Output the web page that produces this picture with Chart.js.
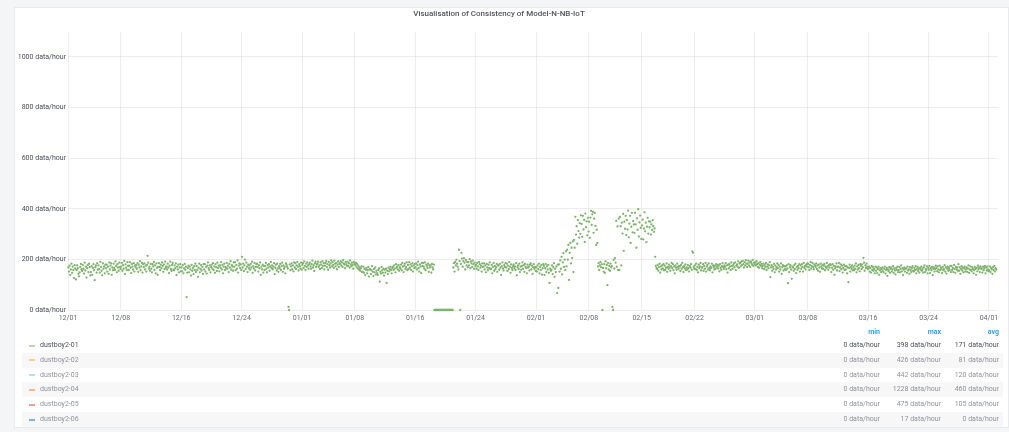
<!DOCTYPE html>
<html>
<head>
<meta charset="utf-8">
<script src="https://cdn.jsdelivr.net/npm/chart.js@4.4.1/dist/chart.umd.min.js"></script>
<style>
  html, body { margin: 0; padding: 0; width: 1009px; height: 432px; overflow: hidden; background: #f4f5f6; font-family: Roboto, "Helvetica Neue", Arial, sans-serif; }
  #panel { position: absolute; left: 14px; top: 7px; width: 995px; height: 421px; background: #fff; border: 1px solid #e9eaec; box-sizing: border-box; }
  #chart { position: absolute; left: 0; top: 0; }
  #legend { position: absolute; left: 0; top: 0; width: 1009px; height: 432px; will-change: transform; }
  .row { position: absolute; left: 22px; width: 981px; height: 15px; font-size: 7px; line-height: 15px; color: #8f9399; }
  .row.alt { background: #f7f7f8; }
  .row.on { color: #4b5057; }
  .row.head { height: 12px; line-height: 12px; color: #33a2e5; font-weight: 700; }
  .sw { position: absolute; left: 7px; top: 6.5px; width: 6px; height: 2px; opacity: 0.55; }
  .name { position: absolute; left: 18px; }
  .v { position: absolute; width: 80px; text-align: right; }
  .c1 { left: 778px; } .c2 { left: 839px; } .c3 { left: 897px; }
</style>
</head>
<body>
<div id="panel"></div>
<canvas id="chart" width="1009" height="326"></canvas>
<div id="legend"></div>
<script>
// Message counts for dustboy2-01 (data/hour), one sample every 2 hours
const decValues = [
  168,152,175,139,160,183,147,171,158,126,177,164, 121,158,176,165,143,133,149,170,182,161,154,178,
  162,144,187,156,171,128,165,178,150,183,169,137, 150,173,139,166,181,157,118,169,176,148,185,160,
  176,161,148,190,170,155,137,184,163,172,145,179, 165,179,152,171,143,188,160,175,184,139,168,157,
  183,166,158,192,174,149,181,168,155,187,170,162, 171,186,155,177,163,194,142,180,167,158,189,174,
  158,175,189,167,146,182,171,160,185,152,176,169, 177,163,185,151,179,168,193,157,172,186,148,181,
  169,184,160,175,152,178,214,187,163,171,155,182, 163,149,181,172,190,158,176,145,184,167,139,170,
  185,170,157,179,166,188,174,151,180,162,191,168, 172,160,183,168,146,175,191,162,154,178,186,159,
  157,176,165,184,138,171,160,179,149,168,181,153, 168,153,177,145,164,182,159,171,51,148,166,175,
  149,171,160,136,178,155,166,142,173,158,183,150, 174,158,131,167,183,149,162,177,156,170,143,181,
  160,181,152,170,144,175,188,165,158,176,149,169, 179,163,185,158,172,147,181,169,154,187,166,175,
  153,176,167,189,160,178,145,171,183,158,170,164, 186,164,175,150,182,168,193,159,177,171,155,188,
  171,189,157,178,163,196,148,175,184,166,180,158, 210,168,183,154,176,199,162,187,171,150,179,165,
  175,159,182,168,191,147,173,164,186,156,170,181, 183,170,152,177,165,188,139,171,160,179,148,174,
  158,174,186,163,149,178,168,181,155,172,190,166, 176,161,171,185,142,167,179,156,183,164,151,173,
  165,182,158,173,187,151,176,163,170,145,184,178, 170,164,12,0,180,157,172,184,161,176,153,188,
  168,185,162,176,190,171,156,181,173,164,187,159
];
const janValues = [
  178,185,166,192,174,158,183,170,188,176,163,181, 187,172,163,181,195,168,176,154,184,191,170,179,
  183,191,170,176,162,188,179,166,193,174,185,160, 175,186,194,169,181,159,190,177,168,184,196,172,
  189,178,167,195,183,172,186,161,179,192,170,184, 182,193,176,188,170,197,184,179,165,190,181,174,
  191,174,185,168,196,180,172,187,177,163,189,182, 178,186,171,182,165,175,160,168,155,164,172,150,
  152,171,147,163,138,159,166,145,157,170,132,161, 160,142,157,173,151,134,162,149,168,140,155,146,
  139,158,165,112,151,144,170,156,147,163,136,159, 148,163,107,155,142,167,153,161,171,158,145,166,
  170,158,176,163,149,181,167,172,160,178,155,169, 164,179,157,186,171,150,175,183,162,169,188,158,
  178,162,189,167,180,158,173,185,152,176,166,182, 169,184,160,177,191,165,152,180,171,146,186,174,
  186,171,163,188,157,179,174,166,183,151,177,168, 175,148,182,168,160,179,0,0,0,0,0,0,
  0,0,0,0,0,0,0,0,0,0,0,0, 0,0,0,0,0,0,0,0,0,0,0,0,
  168,185,152,190,176,199,183,171,160,238,194,0, 182,226,203,171,193,205,187,160,198,176,190,169,
  189,176,201,165,192,184,170,195,181,163,187,174, 178,163,186,172,158,190,181,167,175,152,184,170,
  171,184,160,176,149,182,168,157,179,165,188,162, 163,178,145,170,186,155,174,161,169,182,151,176,
  176,159,182,167,139,173,188,164,156,177,170,185, 168,183,154,175,162,190,171,147,180,166,158,173,
  180,165,172,158,185,137,169,176,162,183,150,171, 159,174,188,163,177,151,182,170,166,145,179,168,
  172,156,179,184,160,175,143,168,181,163,170,154
];
const febValues = [
  168,152,176,161,183,145,170,158,177,140,165,181, 174,139,165,181,150,172,160,178,147,107,163,155,
  158,176,142,169,185,131,163,150,172,67,179,87, 180,152,196,163,210,141,188,225,170,199,158,232,
  172,238,199,257,119,226,265,184,246,205,271,150, 277,246,368,298,331,262,355,312,286,343,301,374,
  340,289,372,318,356,269,381,327,350,295,364,310, 349,285,365,392,336,378,388,305,361,384,332,257,
  317,265,172,185,158,176,190,169,181,0,166,152, 181,147,192,165,178,98,186,160,174,155,183,169,
  173,12,0,198,164,205,187,352,171,330,158,361, 158,368,331,176,345,302,380,234,349,321,372,296,
  356,318,393,287,341,372,265,329,384,307,352,338, 305,384,338,246,362,317,398,290,346,373,325,281,
  334,357,279,322,386,311,345,268,329,364,302,350, 327,349,298,338,316,355,331,309,322,210,174,165,
  162,178,155,169,183,148,172,160,176,164,181,157, 175,158,167,184,151,170,163,179,168,155,173,186,
  166,181,157,172,145,176,168,159,183,170,162,174, 171,154,178,163,186,169,150,174,165,180,158,168,
  160,177,165,152,173,168,181,159,232,226,170,163, 176,162,183,158,170,149,179,165,172,186,156,168,
  168,181,155,174,163,186,152,171,178,160,184,166, 157,172,166,183,149,176,169,160,175,163,181,170,
  178,164,175,153,181,167,159,173,185,170,162,176, 170,185,161,176,148,179,165,182,172,158,188,174,
  163,177,184,169,188,158,175,180,171,192,166,183, 186,172,191,178,194,181,168,189,176,197,183,170,
  183,195,176,188,170,192,185,179,198,174,187,181
];
const marValues = [
  188,176,193,181,170,185,167,179,190,174,182,165, 174,183,162,178,169,186,158,172,180,165,176,189,
  130,168,177,155,171,163,182,149,175,160,169,184, 165,178,152,171,160,184,143,169,177,156,173,162,
  172,158,176,164,106,181,150,169,177,160,123,171, 168,155,177,162,183,146,170,159,174,165,181,152,
  176,163,181,170,152,186,167,174,160,179,171,184, 182,169,158,177,190,164,173,186,170,161,180,175,
  170,184,162,176,155,179,168,151,183,172,164,178, 163,175,182,157,171,166,186,172,159,177,168,181,
  178,150,167,181,159,174,139,165,172,184,156,170, 171,186,154,168,180,161,175,148,166,179,158,173,
  160,173,145,168,110,166,179,152,170,163,176,157, 168,157,175,163,184,149,172,160,178,166,153,181,
  174,162,180,169,206,187,155,176,166,183,171,162, 163,171,152,166,148,174,158,169,155,162,145,171,
  155,168,146,162,171,139,157,165,150,160,168,153, 150,163,171,144,158,166,135,160,154,169,147,162,
  168,152,160,173,147,164,156,141,166,158,171,150, 157,170,149,162,176,153,165,138,160,168,152,163,
  164,147,171,156,160,143,169,158,150,166,173,155, 152,166,158,173,145,161,170,154,163,148,167,159,
  171,155,163,148,168,176,150,162,157,172,145,166, 159,174,146,165,157,170,138,163,168,152,161,175,
  166,153,172,160,149,175,158,168,162,146,170,157, 161,177,152,169,144,163,171,155,166,158,174,150,
  174,158,166,150,178,162,147,170,160,168,155,181, 155,169,143,162,173,156,167,149,164,171,152,160,
  168,151,164,176,147,160,172,158,153,169,162,145, 157,170,162,139,166,153,175,161,168,150,172,164,
  163,148,171,157,165,174,145,168,156,172,160,153, 156,172,150,166,161,143,169,158,174,152,165,160
];
const monthStarts = ['12/01', '01/01', '02/01', '03/01'];
const samplesPerDay = 12;

const tickLabels = ['12/01','12/08','12/16','12/24','01/01','01/08','01/16','01/24','02/01',
                    '02/08','02/15','02/22','03/01','03/08','03/16','03/24','04/01'];
const yTickValues = [0, 200, 400, 600, 800, 1000];

const seriesNames = ['dustboy2-01','dustboy2-02','dustboy2-03','dustboy2-04','dustboy2-05','dustboy2-06'];
const seriesColors = ['#7eb26d','#eab839','#6ed0e0','#ef843c','#e24d42','#1f78c1'];
const seriesMin = [0, 0, 0, 0, 0, 0];
const seriesMax = [398, 426, 442, 1228, 475, 17];
const seriesAvg = [171, 81, 120, 460, 105, 0];

// day offset from 12/01 (Dec 2019 .. Apr 2020)
function dayOf(label) {
  const [m, d] = label.split('/').map(Number);
  const year = m === 12 ? 2019 : 2020;
  return (Date.UTC(year, m - 1, d) - Date.UTC(2019, 11, 1)) / 86400000;
}

const points = [];
[decValues, janValues, febValues, marValues].forEach((vals, k) => {
  const start = dayOf(monthStarts[k]);
  vals.forEach((v, i) => points.push({ x: start + (i + 0.5) / samplesPerDay, y: v }));
});
const tickDays = tickLabels.map(dayOf);

const font = 'Roboto, "Helvetica Neue", Arial, sans-serif';
new Chart(document.getElementById('chart'), {
  type: 'scatter',
  data: {
    datasets: [{
      label: seriesNames[0],
      data: points,
      backgroundColor: seriesColors[0],
      borderWidth: 0,
      pointRadius: 1.15,
      pointHoverRadius: 1.15,
      clip: false
    }]
  },
  options: {
    responsive: false,
    animation: false,
    layout: { padding: { left: 0, right: 11, top: 0, bottom: 0 } },
    plugins: {
      legend: { display: false },
      tooltip: { enabled: false },
      title: {
        display: true,
        text: 'Visualisation of Consistency of Model-N-NB-IoT',
        color: '#52545c',
        font: { family: font, size: 8, weight: '500' },
        padding: { top: 9, bottom: 13 }
      }
    },
    scales: {
      x: {
        type: 'linear',
        min: 0,
        max: 123.2,
        border: { display: false },
        grid: { color: 'rgba(0,0,0,0.07)', drawTicks: false },
        afterBuildTicks: s => { s.ticks = tickDays.map(v => ({ value: v })); },
        afterFit: s => { s.height = 16; },
        ticks: {
          autoSkip: false, maxRotation: 0, padding: 4,
          color: '#64686e', font: { family: font, size: 7 },
          callback: v => tickLabels[tickDays.indexOf(v)]
        }
      },
      y: {
        min: 0,
        max: 1100,
        border: { display: false },
        grid: { color: 'rgba(0,0,0,0.07)', drawTicks: false },
        afterBuildTicks: s => { s.ticks = yTickValues.map(v => ({ value: v })); },
        afterFit: s => { s.width = 68; },
        ticks: {
          padding: 2, color: '#464c54', font: { family: font, size: 7 },
          callback: v => v + ' data/hour'
        }
      }
    }
  }
});

// legend table with min / max / avg columns
const legend = document.getElementById('legend');
let html = '<div class="row head" style="top:326px">' +
  '<span class="v c1">min</span><span class="v c2">max</span><span class="v c3">avg</span></div>';
seriesNames.forEach((name, i) => {
  const cls = 'row' + (i % 2 ? ' alt' : '') + (i === 0 ? ' on' : '');
  html += '<div class="' + cls + '" style="top:' + (338 + 14.8 * i) + 'px">' +
    '<span class="sw" style="background:' + seriesColors[i] + '"></span>' +
    '<span class="name">' + name + '</span>' +
    '<span class="v c1">' + seriesMin[i] + ' data/hour</span>' +
    '<span class="v c2">' + seriesMax[i] + ' data/hour</span>' +
    '<span class="v c3">' + seriesAvg[i] + ' data/hour</span></div>';
});
legend.innerHTML = html;
</script>
</body>
</html>
